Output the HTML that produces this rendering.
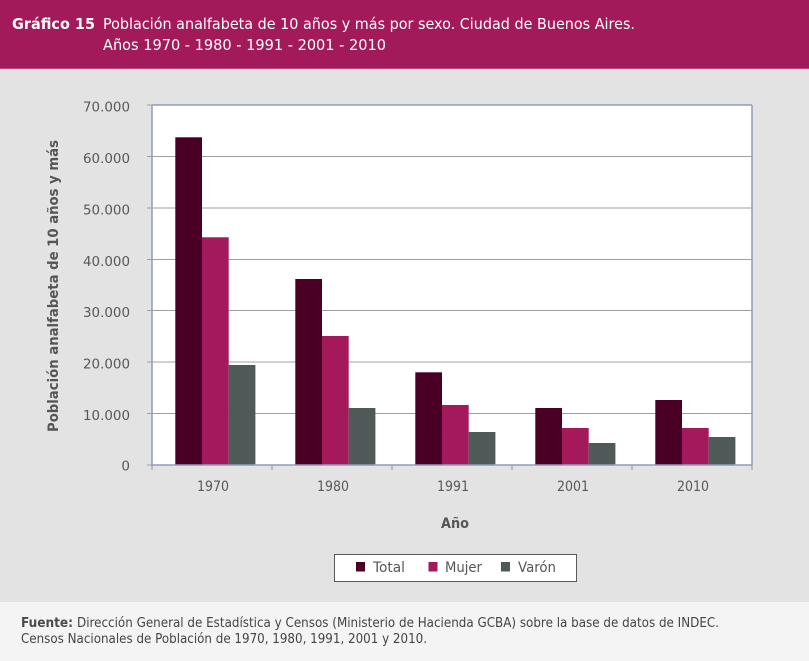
<!DOCTYPE html>
<html><head><meta charset="utf-8"><style>
html,body{margin:0;padding:0;background:#e3e3e3;}
svg{display:block;}
</style></head><body>
<svg width="809" height="661" viewBox="0 0 809 661" xmlns="http://www.w3.org/2000/svg" font-family="'DejaVu Sans', 'Liberation Sans', sans-serif">
<rect x="0" y="0" width="809" height="661" fill="#e3e3e3"/>
<!-- header -->
<rect x="0" y="0" width="809" height="69" fill="#a31a5b"/>
<line x1="0" y1="68.5" x2="809" y2="68.5" stroke="#b94a7a" stroke-width="1"/>
<text x="12" y="29" fill="#ffffff" font-size="15.5" font-weight="bold" textLength="83" lengthAdjust="spacingAndGlyphs">Gráfico 15</text>
<text x="103" y="29" fill="#ffffff" font-size="15.5" textLength="532" lengthAdjust="spacingAndGlyphs">Población analfabeta de 10 años y más por sexo. Ciudad de Buenos Aires.</text>
<text x="103" y="50" fill="#ffffff" font-size="15.5" textLength="283" lengthAdjust="spacingAndGlyphs">Años 1970 - 1980 - 1991 - 2001 - 2010</text>

<!-- plot area -->
<rect x="152" y="105" width="600" height="360" fill="#ffffff"/>
<g stroke="#a0a0a0" stroke-width="1">
<line x1="147" y1="156.5" x2="752" y2="156.5"/>
<line x1="147" y1="208" x2="752" y2="208"/>
<line x1="147" y1="259.5" x2="752" y2="259.5"/>
<line x1="147" y1="310.5" x2="752" y2="310.5"/>
<line x1="147" y1="362" x2="752" y2="362"/>
<line x1="147" y1="413.5" x2="752" y2="413.5"/>
<line x1="147" y1="105" x2="152" y2="105"/>
<line x1="147" y1="465" x2="152" y2="465"/>
</g>

<!-- bars -->
<g>
<rect x="175.3" y="137.3" width="26.7" height="327.7" fill="#4a0024"/>
<rect x="202" y="237.3" width="26.7" height="227.7" fill="#a3195b"/>
<rect x="228.7" y="365" width="26.7" height="100" fill="#4f5a58"/>

<rect x="295.3" y="279" width="26.7" height="186" fill="#4a0024"/>
<rect x="322" y="336" width="26.7" height="129" fill="#a3195b"/>
<rect x="348.7" y="408" width="26.7" height="57" fill="#4f5a58"/>

<rect x="415.3" y="372.3" width="26.7" height="92.7" fill="#4a0024"/>
<rect x="442" y="405" width="26.7" height="60" fill="#a3195b"/>
<rect x="468.7" y="432" width="26.7" height="33" fill="#4f5a58"/>

<rect x="535.3" y="408" width="26.7" height="57" fill="#4a0024"/>
<rect x="562" y="428" width="26.7" height="37" fill="#a3195b"/>
<rect x="588.7" y="443" width="26.7" height="22" fill="#4f5a58"/>

<rect x="655.3" y="400" width="26.7" height="65" fill="#4a0024"/>
<rect x="682" y="428" width="26.7" height="37" fill="#a3195b"/>
<rect x="708.7" y="437" width="26.7" height="28" fill="#4f5a58"/>
</g>

<!-- plot border -->
<g stroke="#8e9db8" stroke-width="1.5" fill="none">
<line x1="152" y1="105" x2="752" y2="105"/>
<line x1="152" y1="105" x2="152" y2="465"/>
<line x1="752" y1="105" x2="752" y2="465"/>
<line x1="152" y1="465" x2="752" y2="465"/>
</g>
<g stroke="#909090" stroke-width="1">
<line x1="152" y1="465" x2="152" y2="470"/>
<line x1="272" y1="465" x2="272" y2="470"/>
<line x1="392" y1="465" x2="392" y2="470"/>
<line x1="512" y1="465" x2="512" y2="470"/>
<line x1="632" y1="465" x2="632" y2="470"/>
<line x1="752" y1="465" x2="752" y2="470"/>
</g>

<!-- y tick labels -->
<g fill="#585858" font-size="13.5" text-anchor="end">
<text x="130" y="111.5" textLength="47" lengthAdjust="spacingAndGlyphs">70.000</text>
<text x="130" y="163" textLength="47" lengthAdjust="spacingAndGlyphs">60.000</text>
<text x="130" y="214.5" textLength="47" lengthAdjust="spacingAndGlyphs">50.000</text>
<text x="130" y="266" textLength="47" lengthAdjust="spacingAndGlyphs">40.000</text>
<text x="130" y="317" textLength="47" lengthAdjust="spacingAndGlyphs">30.000</text>
<text x="130" y="368.5" textLength="47" lengthAdjust="spacingAndGlyphs">20.000</text>
<text x="130" y="420" textLength="47" lengthAdjust="spacingAndGlyphs">10.000</text>
<text x="130" y="470.5">0</text>
</g>

<!-- x labels -->
<g fill="#585858" font-size="14" text-anchor="middle">
<text x="213" y="491" textLength="32" lengthAdjust="spacingAndGlyphs">1970</text>
<text x="333" y="491" textLength="32" lengthAdjust="spacingAndGlyphs">1980</text>
<text x="453" y="491" textLength="32" lengthAdjust="spacingAndGlyphs">1991</text>
<text x="573" y="491" textLength="32" lengthAdjust="spacingAndGlyphs">2001</text>
<text x="693" y="491" textLength="32" lengthAdjust="spacingAndGlyphs">2010</text>
</g>

<!-- axis titles -->
<text transform="translate(58,286) rotate(-90)" fill="#555555" font-size="14" font-weight="bold" text-anchor="middle" textLength="292" lengthAdjust="spacingAndGlyphs">Población analfabeta de 10 años y más</text>
<text x="455" y="528" fill="#555555" font-size="14" font-weight="bold" text-anchor="middle" textLength="28" lengthAdjust="spacingAndGlyphs">Año</text>

<!-- legend -->
<rect x="334.5" y="554.5" width="242" height="27" fill="#ffffff" stroke="#5a5a5a" stroke-width="1"/>
<rect x="356" y="562" width="9" height="9.5" fill="#4a0024"/>
<rect x="428.5" y="562" width="9" height="9.5" fill="#a3195b"/>
<rect x="501" y="562" width="9" height="9.5" fill="#4f5a58"/>
<g fill="#555555" font-size="14">
<text x="373" y="572" textLength="32" lengthAdjust="spacingAndGlyphs">Total</text>
<text x="445" y="572" textLength="37" lengthAdjust="spacingAndGlyphs">Mujer</text>
<text x="518" y="572" textLength="38" lengthAdjust="spacingAndGlyphs">Varón</text>
</g>

<!-- footer -->
<rect x="0" y="602" width="809" height="59" fill="#f4f4f4"/>
<text x="21" y="627" fill="#4a4a4a" font-size="13" font-weight="bold" textLength="52" lengthAdjust="spacingAndGlyphs">Fuente:</text>
<text x="77" y="627" fill="#444444" font-size="13" textLength="642" lengthAdjust="spacingAndGlyphs">Dirección General de Estadística y Censos (Ministerio de Hacienda GCBA) sobre la base de datos de INDEC.</text>
<text x="21" y="643" fill="#444444" font-size="13" textLength="406" lengthAdjust="spacingAndGlyphs">Censos Nacionales de Población de 1970, 1980, 1991, 2001 y 2010.</text>
</svg>
</body></html>
